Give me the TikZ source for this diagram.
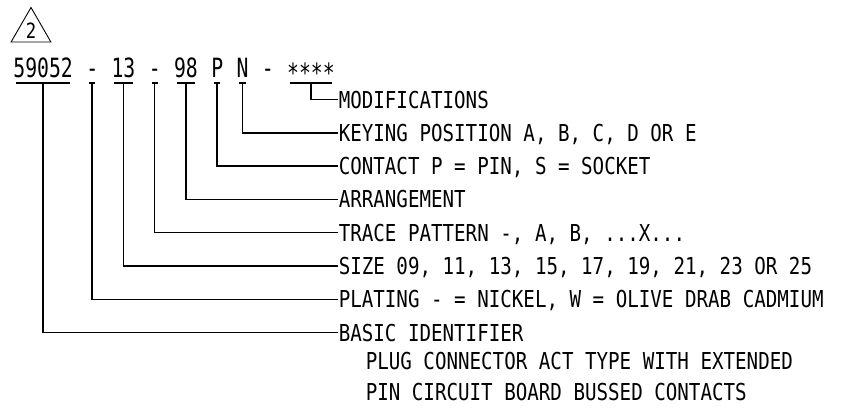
\documentclass[tikz,border=0pt]{standalone}
\usepackage{fontspec}
\newfontfamily\partfont[FakeStretch=0.746]{DejaVu Sans Mono}
\newfontfamily\lblfont[FakeStretch=0.823]{DejaVu Sans Mono}
\usetikzlibrary{positioning,shapes.geometric}
\begin{document}
\begin{tikzpicture}
[x=1pt, y=-1pt, node distance=33.3pt, line width=1.5pt]

\tikzstyle{field}=[inner xsep=0pt, inner ysep=5pt, text height=19.3pt, text depth=0pt, font=\partfont\fontsize{26.5}{26.5}\selectfont]
\tikzstyle{desc}=[anchor=west, inner sep=0pt, text height=17pt, text depth=0pt, font=\lblfont\fontsize{23.3}{23.3}\selectfont]
\tikzstyle{uline}=[shorten <=3.5pt, shorten >=3.5pt]

\useasboundingbox (0,0) rectangle (850,413);

% revision triangle
\node[regular polygon, regular polygon sides=3, draw, line width=0.9pt, minimum size=46pt, inner sep=0pt,
      font=\lblfont\fontsize{21}{21}\selectfont]	(rev)	at (31,30.5)	{2};

% part number
\node[field, anchor=west]	(basic)	at (12.6,67.5)	{59052};
\node[field]	(plating)	[right=11.9pt of basic]	{-};
\node[field]	(size)		[right=11.9pt of plating]	{13};
\node[field]	(trace)		[right=11.9pt of size]	{-};
\node[field]	(arrange)	[right=11.9pt of trace]	{98};
\node[field]	(contact)	[right=11.9pt of arrange]	{P};
\node[field]	(keying)	[right=11.9pt of contact]	{N};
\node[field]	(sep)		[right=11.9pt of keying]	{-};
\node[field]	(mods)		[right=11.9pt of sep]	{\raisebox{-5pt}{****}};

% explanations
\node[desc]	(lmods)	at (338,99.5)	{MODIFICATIONS};
\node[desc]	(lkeying)	[below=of lmods.west, anchor=west]	{KEYING POSITION A, B, C, D OR E};
\node[desc]	(lcontact)	[below=of lkeying.west, anchor=west]	{CONTACT P = PIN, S = SOCKET};
\node[desc]	(larrange)	[below=of lcontact.west, anchor=west]	{ARRANGEMENT};
\node[desc]	(ltrace)	[below=of larrange.west, anchor=west]	{TRACE PATTERN -, A, B, ...X...};
\node[desc]	(lsize)	[below=of ltrace.west, anchor=west]	{SIZE 09, 11, 13, 15, 17, 19, 21, 23 OR 25};
\node[desc]	(lplating)	[below=of lsize.west, anchor=west]	{PLATING - = NICKEL, W = OLIVE DRAB CADMIUM};
\node[desc]	(lbasic)	[below=of lplating.west, anchor=west]	{BASIC IDENTIFIER};
\node[desc]	(ldescA)	[below=28pt of lbasic.west, anchor=west, xshift=27pt]	{PLUG CONNECTOR ACT TYPE WITH EXTENDED};
\node[desc]	(ldescB)	[below=31pt of ldescA.west, anchor=west]	{PIN CIRCUIT BOARD BUSSED CONTACTS};

% leaders
\draw [uline] (basic.south west)--(basic.south east);
\draw [uline] (plating.south west)--(plating.south east);
\draw [uline] (size.south west)--(size.south east);
\draw [uline] (trace.south west)--(trace.south east);
\draw [uline] (arrange.south west)--(arrange.south east);
\draw [uline] (contact.south west)--(contact.south east);
\draw [uline] (keying.south west)--(keying.south east);
\draw [uline] (mods.south west)--(mods.south east);

\draw (mods.south) |- (lmods.west);
\draw (keying.south) |- (lkeying.west);
\draw (contact.south) |- (lcontact.west);
\draw (arrange.south) |- (larrange.west);
\draw (trace.south) |- (ltrace.west);
\draw (size.south) |- (lsize.west);
\draw (plating.south) |- (lplating.west);
\draw (basic.south) |- (lbasic.west);
\end{tikzpicture}
\end{document}
